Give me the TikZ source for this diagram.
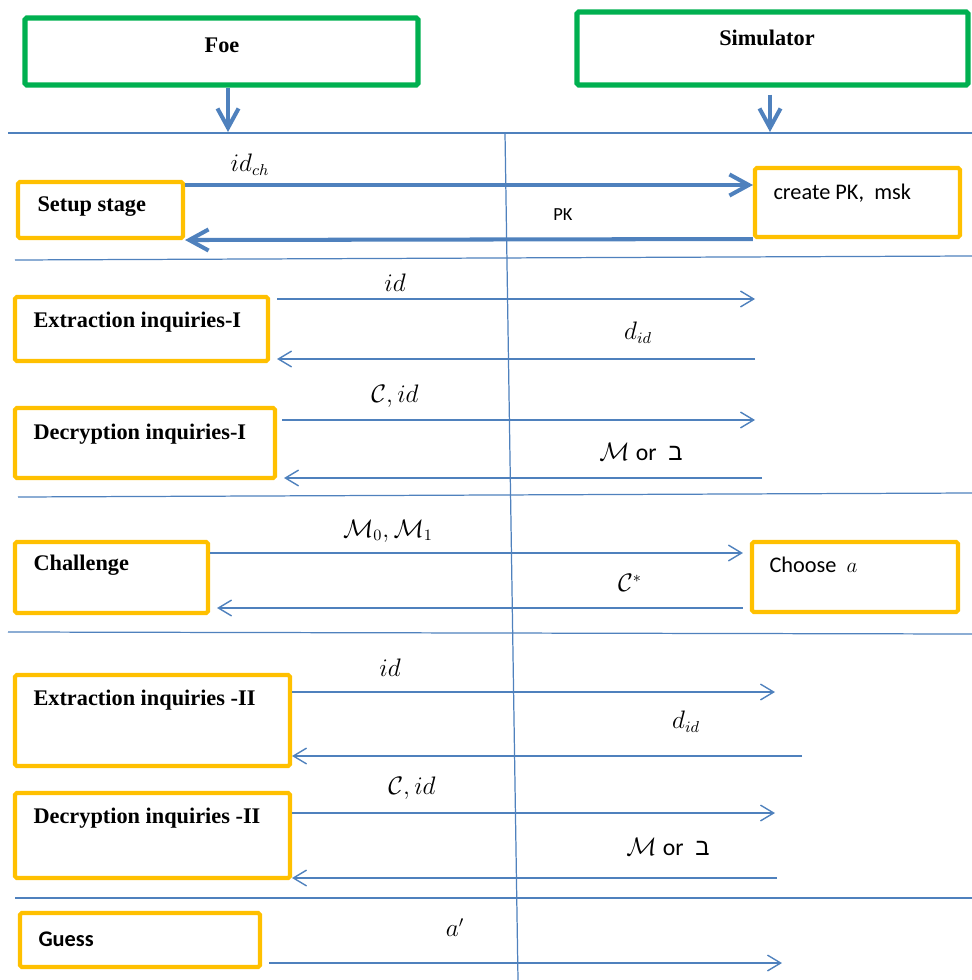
\documentclass[tikz,border=0pt]{standalone}
\usepackage{fontspec}
\setmainfont{Liberation Serif}
\newfontfamily\calibri{Carlito}
\newfontfamily\hebfont[Script=Hebrew]{Liberation Sans}
\TeXXeTstate=1
\usetikzlibrary{arrows.meta, fit}

\definecolor{lineblue}{HTML}{4F81BD}
\definecolor{boxgreen}{HTML}{00B050}
\definecolor{boxorange}{HTML}{FFC000}

\newcommand{\hebbet}{{\hebfont\beginR ב\endR}}

\begin{document}
\begin{tikzpicture}[
            x = 0.02cm, y = -0.02cm, % one unit per pixel, y pointing down
            > = {Straight Barb[length=7.5pt, width=9pt]}, % arrow head style
            font = \fontsize{12.7}{15}\selectfont,
            semithick % line style
        ]

        \tikzstyle{player}=[
            draw = boxgreen,
            line width = 3pt,
            inner sep = 0pt,
            rounded corners = 1pt
        ]
        \tikzstyle{stage}=[
            draw = boxorange,
            line width = 2.3pt,
            inner sep = 0pt,
            rounded corners = 1pt
        ]
        \tikzstyle{title}=[font = \fontsize{12.7}{15}\selectfont\bfseries, anchor = west, inner sep = 0pt]
        \tikzstyle{lbl}=[font = \fontsize{13.5}{15}\selectfont, inner sep = 0pt]
        \tikzstyle{sanslbl}=[font = \fontsize{12.7}{15}\selectfont\calibri, anchor = west, inner sep = 0pt]
        \tikzstyle{msg}=[->, color = lineblue, line width = 0.8pt]
        \tikzstyle{bigmsg}=[-{Straight Barb[length=11pt, width=12pt]}, color = lineblue, line width = 2.3pt]
        \tikzstyle{sepline}=[color = lineblue, line width = 0.7pt]

        \useasboundingbox (0,0) rectangle (972,980);

        % players
        \node[player, fit = {(25,18) (418,85)}] (foe) {};
        \node[player, fit = {(577,12) (968,85)}] (sim) {};
        \node[title, anchor = center] (foet) at (222,45) {Foe};
        \node[title, anchor = center] (simt) at (767,38) {Simulator};

        % separators
        \draw[sepline] (8,133) -- (972,133);
        \draw[sepline] (15,260) -- (972,256);
        \draw[sepline] (18,497) -- (972,493);
        \draw[sepline] (8,632) -- (972,634);
        \draw[sepline] (15,898) -- (972,898);
        \coordinate (vtop) at (505,133);
        \coordinate (vbot) at (518,980);
        \draw[sepline] (vtop) -- (vbot);

        \coordinate (foeend) at (228,132);
        \coordinate (simend) at (770,132);
        \draw[bigmsg] (foe.south -| foeend) -- (foeend);
        \draw[bigmsg, shorten <= 4pt] (sim.south -| simend) -- (simend);

        % setup stage
        \node[stage, fit = {(18,182) (183,238)}] (setup) {};
        \node[title] (setupt) at (37,207) {Setup stage};
        \node[stage, fit = {(755,168) (960,237)}] (create) {};
        \node[sanslbl] (createt) at (773,193) {create PK,\ \ msk};

        \draw[bigmsg] (setup.east |- 0,185) -- (create.west |- 0,185);
        \draw[bigmsg] (create.south west) -- (setup.south east);
        \node[lbl] (lidch) at (250,165) {$id_{ch}$};
        \node[sanslbl, anchor = center, font = \fontsize{10.5}{12}\selectfont\calibri] (lpk) at (563,215) {PK};

        % extraction I
        \node[stage, fit = {(15,297) (268,361)}] (extA) {};
        \node[title] (extAt) at (33,322) {Extraction inquiries-I};
        \coordinate (s1) at (755,299);
        \coordinate (s2) at (755,359);
        \draw[msg, shorten <= 4pt] (extA.east |- s1) -- (s1);
        \draw[msg, shorten >= 4pt] (s2) -- (extA.east |- s2);
        \node[lbl] (lid1) at (395,283) {$id$};
        \node[lbl] (ldid1) at (638,333) {$d_{id}$};

        % decryption I
        \node[stage, fit = {(15,408) (275,478)}] (decA) {};
        \node[title] (decAt) at (33,434) {Decryption inquiries-I};
        \coordinate (s3) at (755,420);
        \coordinate (s4) at (762,478);
        \draw[msg, shorten <= 3pt] (decA.east |- s3) -- (s3);
        \draw[msg, shorten >= 4pt] (s4) -- (decA.east |- s4);
        \node[lbl] (lcid1) at (395,396) {$\mathcal{C}, id$};
        \node[lbl] (lmor1) at (641,452) {$\mathcal{M}$ {\calibri or}\ \ \hebbet};

        % challenge
        \node[stage, fit = {(15,542) (208,613)}] (chal) {};
        \node[title] (chalt) at (33,565) {Challenge};
        \node[stage, fit = {(752,542) (958,612)}] (choose) {};
        \node[sanslbl] (chooset) at (769,565) {Choose\ \ $a$};
        \draw[msg, shorten >= 4pt] (chal.east |- 0,553) -- (choose.west |- 0,553);
        \draw[msg, shorten <= 4pt, shorten >= 4pt] (choose.west |- 0,608) -- (chal.east |- 0,608);
        \node[lbl] (lmm) at (388,531) {$\mathcal{M}_0, \mathcal{M}_1$};
        \node[lbl] (lcstar) at (630,583) {$\mathcal{C}^*$};

        % extraction II
        \node[stage, fit = {(15,675) (290,766)}] (extB) {};
        \node[title] (extBt) at (33,700) {Extraction inquiries -II};
        \coordinate (s5) at (775,692);
        \coordinate (s6) at (802,756);
        \draw[msg] (extB.east |- s5) -- (s5);
        \draw[msg] (s6) -- (extB.east |- s6);
        \node[lbl] (lid2) at (390,668) {$id$};
        \node[lbl] (ldid2) at (686,722) {$d_{id}$};

        % decryption II
        \node[stage, fit = {(15,793) (290,878)}] (decB) {};
        \node[title] (decBt) at (33,818) {Decryption inquiries -II};
        \coordinate (s7) at (775,813);
        \coordinate (s8) at (777,878);
        \draw[msg] (decB.east |- s7) -- (s7);
        \draw[msg] (s8) -- (decB.east |- s8);
        \node[lbl] (lcid2) at (412,788) {$\mathcal{C}, id$};
        \node[lbl] (lmor2) at (668,847) {$\mathcal{M}$ {\calibri or}\ \ \hebbet};

        % guess
        \node[stage, fit = {(20,913) (260,967)}] (guess) {};
        \node[sanslbl, font = \fontsize{12.7}{15}\selectfont\calibri\bfseries] (guesst) at (38,939) {Guess};
        \coordinate (s9) at (782,963);
        \draw[msg, shorten <= 4pt] (guess.east |- s9) -- (s9);
        \node[lbl] (lap) at (455,928) {$a'$};

  \end{tikzpicture}
\end{document}
